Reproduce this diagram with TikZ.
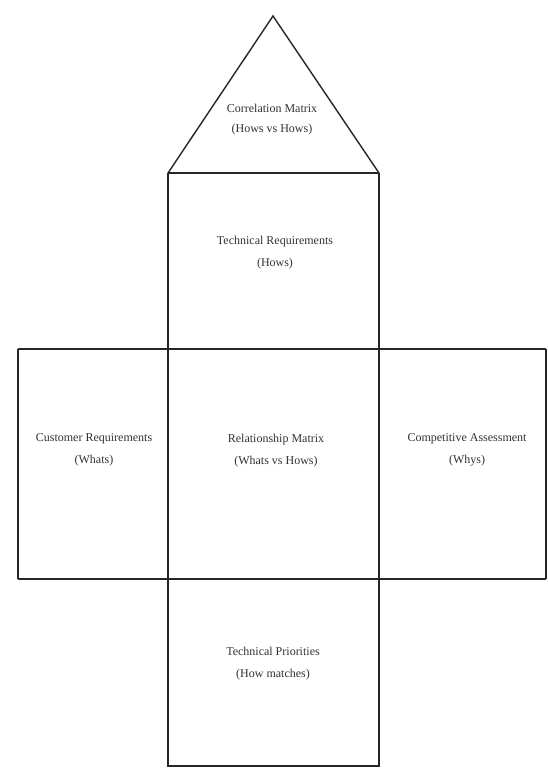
\documentclass[tikz,border=0pt]{standalone}
\usepackage{fontspec}
\setmainfont{Liberation Serif}
\begin{document}
\begin{tikzpicture}[x=1pt,y=-1pt,
  thin line/.style={line width=1.4pt,draw=black!85},
  thick line/.style={line width=2.8pt,draw=black!85},
  lbl/.style={align=center,font=\fontsize{12}{22}\selectfont,text=black!80,inner sep=0pt}]
\useasboundingbox[fill=white] (0,0) rectangle (548,769);
% corner coordinates
\coordinate (apex) at (273,16);
\coordinate (tl) at (168,173);
\coordinate (tr) at (379,173);
\coordinate (fl) at (168,766);
\coordinate (fr) at (379,766);
\coordinate (wl) at (18,349);
\coordinate (wr) at (546,349);
\coordinate (wbl) at (18,579);
\coordinate (wbr) at (546,579);
% roof
\draw[thin line,line join=miter] (tl) -- (apex) -- (tr);
\draw[thick line] (tl) -- (tr);
% central column
\draw[thin line] (tl) -- (fl) -- (fr) -- (tr);
% wide band
\draw[thick line] (wl) -- (wr);
\draw[thick line] (wbl) -- (wbr);
\draw[thick line] (wl) -- (wbl);
\draw[thin line] (wr) -- (wbr);
% labels
\node[lbl,font=\fontsize{12}{20}\selectfont] (corr) at (272,120) {Correlation Matrix\\(Hows vs Hows)};
\node[lbl] (tech) at (275,253) {Technical Requirements\\(Hows)};
\node[lbl] (cust) at (94,450) {Customer Requirements\\(Whats)};
\node[lbl] (rel) at (276,451) {Relationship Matrix\\(Whats vs Hows)};
\node[lbl] (comp) at (467,450) {Competitive Assessment\\(Whys)};
\node[lbl] (prio) at (273,664) {Technical Priorities\\(How matches)};
\end{tikzpicture}
\end{document}
